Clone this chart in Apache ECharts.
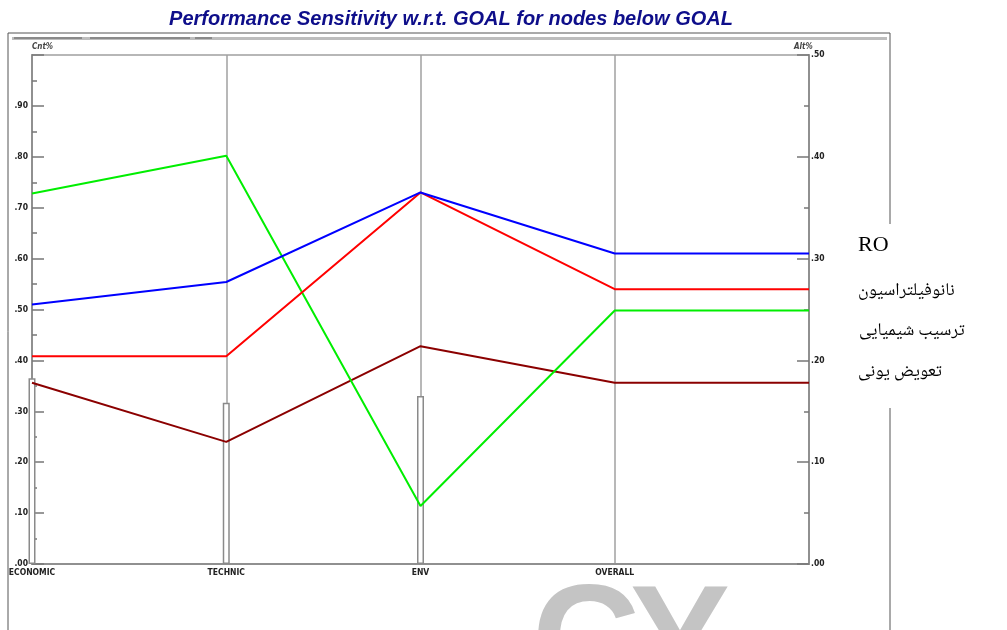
<!DOCTYPE html>
<html>
<head>
<meta charset="utf-8">
<script src="https://cdn.jsdelivr.net/npm/echarts@6/dist/echarts.min.js"></script>
<style>html,body{margin:0;padding:0;background:#fff}#c{width:1007px;height:630px}</style>
</head>
<body>
<div id="c"></div>
<script>
// ---- data ----
var categories = ["ECONOMIC", "TECHNIC", "ENV", "OVERALL", ""];
var criteriaBars = [0.365, 0.317, 0.330, null, null];          // Cnt% (left axis)
var seriesNames = ["RO", "نانوفیلتراسیون", "ترسیب شیمیایی", "تعویض یونی"];
var roValues   = [0.255, 0.277, 0.365, 0.305, 0.305];          // Alt% (right axis)
var nfValues   = [0.204, 0.204, 0.365, 0.270, 0.270];
var chemValues = [0.364, 0.401, 0.057, 0.249, 0.249];
var ionValues  = [0.178, 0.120, 0.214, 0.178, 0.178];
var lineColors = ["#0000ff", "#ff0000", "#00ee00", "#8b0000"];
var titleText = "Performance Sensitivity w.r.t. GOAL for nodes below GOAL";

function fmt(v) {
  return v.toFixed(2).replace(/^0/, "");
}

var chart = echarts.init(document.getElementById('c'));
var labelFont = {fontSize: 8.5, fontWeight: 'bold', fontFamily: 'DejaVu Sans Condensed, Liberation Sans Narrow, sans-serif', color: '#222'};
var persianFont = '18px "Noto Naskh Arabic", "Noto Sans Arabic", "DejaVu Sans", serif';

var option = {
  backgroundColor: '#fff',
  animation: false,
  grid: {left: 32, right: 198, top: 55, bottom: 66, show: true, borderColor: '#a0a0a0', borderWidth: 1.5},
  xAxis: {
    type: 'category', data: categories, boundaryGap: false,
    axisLine: {lineStyle: {color: '#909090', width: 2}},
    axisTick: {show: false},
    axisLabel: Object.assign({margin: 4, interval: 0}, labelFont),
    splitLine: {show: true, interval: 0, lineStyle: {color: '#a0a0a0', width: 1.5}}
  },
  yAxis: [
    {
      type: 'value', min: 0, max: 1, interval: 0.1, position: 'left',
      axisLine: {show: true, lineStyle: {color: '#909090', width: 2}},
      axisTick: {show: true, inside: true, length: 12, lineStyle: {color: '#777', width: 1.5}},
      minorTick: {show: true, splitNumber: 2, length: 5, lineStyle: {color: '#777', width: 1.5}},
      splitLine: {show: false},
      axisLabel: Object.assign({margin: 4, formatter: function (v) { return v >= 1 ? '' : fmt(v); }}, labelFont)
    },
    {
      type: 'value', min: 0, max: 0.5, interval: 0.1, position: 'right',
      axisLine: {show: true, lineStyle: {color: '#909090', width: 2}},
      axisTick: {show: true, inside: true, length: 12, lineStyle: {color: '#777', width: 1.5}},
      minorTick: {show: true, splitNumber: 2, length: 5, lineStyle: {color: '#777', width: 1.5}},
      splitLine: {show: false},
      axisLabel: Object.assign({margin: 2, formatter: function (v) { return fmt(v); }}, labelFont)
    }
  ],
  series: [
    {
      type: 'bar', name: 'Cnt', yAxisIndex: 0, data: criteriaBars, barWidth: 7, z: 1,
      itemStyle: {color: '#fff', borderColor: '#8a8a8a', borderWidth: 1.5}
    },
    {type: 'line', name: seriesNames[3], yAxisIndex: 1, data: ionValues, symbol: 'none', z: 3, lineStyle: {color: lineColors[3], width: 2}},
    {type: 'line', name: seriesNames[2], yAxisIndex: 1, data: chemValues, symbol: 'none', z: 3, lineStyle: {color: lineColors[2], width: 2}},
    {type: 'line', name: seriesNames[1], yAxisIndex: 1, data: nfValues, symbol: 'none', z: 3, lineStyle: {color: lineColors[1], width: 2}},
    {type: 'line', name: seriesNames[0], yAxisIndex: 1, data: roValues, symbol: 'none', z: 3, lineStyle: {color: lineColors[0], width: 2}}
  ],
  graphic: [
    // title
    {type: 'text', z: 10, x: 451, y: 9, style: {text: titleText, textAlign: 'center', fill: '#0e0e8a', font: 'italic bold 20px "Liberation Sans", Arial, sans-serif'}},
    // outer frame
    {type: 'line', z: 5, shape: {x1: 8, y1: 33, x2: 890, y2: 33}, style: {stroke: '#555', lineWidth: 1}},
    {type: 'line', z: 5, shape: {x1: 8, y1: 33, x2: 8, y2: 630}, style: {stroke: '#555', lineWidth: 1}},
    {type: 'line', z: 5, shape: {x1: 890, y1: 33, x2: 890, y2: 224}, style: {stroke: '#555', lineWidth: 1}},
    {type: 'line', z: 5, shape: {x1: 890, y1: 408, x2: 890, y2: 630}, style: {stroke: '#555', lineWidth: 1}},
    // top toolbar band
    {type: 'rect', z: 5, shape: {x: 12, y: 37, width: 875, height: 3}, style: {fill: '#bdbdbd'}},
    {type: 'rect', z: 6, shape: {x: 14, y: 37, width: 68, height: 2}, style: {fill: '#8a8a8a'}},
    {type: 'rect', z: 6, shape: {x: 90, y: 37, width: 100, height: 2}, style: {fill: '#8a8a8a'}},
    {type: 'rect', z: 6, shape: {x: 195, y: 37, width: 17, height: 2}, style: {fill: '#8a8a8a'}},
    // axis caption labels
    {type: 'text', z: 6, x: 32, y: 43, style: {text: 'Cnt%', fill: '#444', font: 'italic bold 8px "DejaVu Sans Condensed", sans-serif'}},
    {type: 'text', z: 6, x: 794, y: 43, style: {text: 'Alt%', fill: '#444', font: 'italic bold 8px "DejaVu Sans Condensed", sans-serif'}},
    // legend
    {type: 'text', z: 6, x: 858, y: 234, style: {text: seriesNames[0], fill: '#000', font: '22px "Liberation Serif", "DejaVu Serif", serif'}},
    {type: 'text', z: 6, x: 858, y: 284, style: {text: seriesNames[1], fill: '#000', font: persianFont}},
    {type: 'text', z: 6, x: 859, y: 324, style: {text: seriesNames[2], fill: '#000', font: persianFont}},
    {type: 'text', z: 6, x: 858, y: 365, style: {text: seriesNames[3], fill: '#000', font: persianFont}},
    // watermark fragment
    {type: 'text', z: 0, x: 532, y: 574, style: {text: 'C', fill: '#c4c4c4', font: 'bold 150px "Liberation Sans Narrow", sans-serif'}},
    {type: 'text', z: 0, x: 630, y: 574, style: {text: 'Y', fill: '#c4c4c4', font: 'bold 150px "Liberation Sans Narrow", sans-serif'}},
    {type: 'rect', z: 1, shape: {x: 480, y: 577, width: 300, height: 7}, style: {fill: '#fff'}}
  ]
};
chart.setOption(option);
</script>
</body>
</html>
